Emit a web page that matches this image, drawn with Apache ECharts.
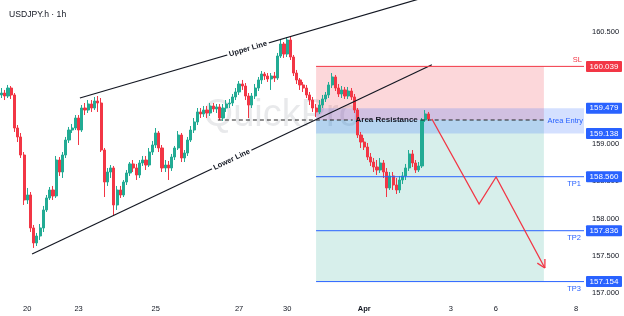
<!DOCTYPE html>
<html><head><meta charset="utf-8">
<script src="https://cdn.jsdelivr.net/npm/echarts@6/dist/echarts.min.js"></script>
<style>html,body{margin:0;padding:0;background:#fff}#c{width:624px;height:316px}</style>
</head><body><div id="c"></div>
<script>
const chartTitle = 'USDJPY.h · 1h';
const watermark = 'QuickPro';
// hourly candles: [open, close, low, high]
const candles = [
[159.656,159.682,159.615,159.749],[159.682,159.642,159.588,159.723],[159.642,159.749,159.615,159.790],[159.749,159.656,159.602,159.776],
[159.656,159.213,159.160,159.682],[159.213,159.093,159.025,159.253],[159.093,158.851,158.811,159.146],[158.851,158.248,158.181,158.891],
[158.248,158.315,158.194,158.409],[158.315,157.873,157.819,158.355],[157.873,157.672,157.605,157.913],[157.672,157.765,157.631,157.806],
[157.765,157.873,157.712,157.926],[157.873,158.114,157.819,158.168],[158.114,158.275,158.087,158.315],[158.275,158.382,158.248,158.422],
[158.382,158.302,158.248,158.436],[158.302,158.784,158.275,158.838],[158.784,158.623,158.570,158.824],[158.623,158.851,158.543,158.891],
[158.851,159.052,158.811,159.093],[159.052,159.186,159.012,159.227],[159.186,159.213,159.146,159.267],[159.213,159.347,159.186,159.387],
[159.347,159.186,158.985,159.387],[159.186,159.481,159.160,159.521],[159.481,159.454,159.387,159.548],[159.454,159.535,159.414,159.588],
[159.535,159.481,159.428,159.588],[159.481,159.575,159.454,159.629],[159.575,159.548,159.428,159.642],[159.548,158.918,158.891,159.615],
[158.918,158.489,158.288,158.945],[158.489,158.623,158.436,158.677],[158.623,158.677,158.543,158.717],[158.677,158.181,158.047,158.704],
[158.181,158.382,158.114,158.436],[158.382,158.315,158.275,158.436],[158.315,158.489,158.288,158.516],[158.489,158.610,158.449,158.650],
[158.610,158.731,158.570,158.757],[158.731,158.677,158.623,158.784],[158.677,158.583,158.516,158.731],[158.583,158.744,158.543,158.784],
[158.744,158.784,158.704,158.838],[158.784,158.717,158.650,158.838],[158.717,158.891,158.690,158.945],[158.891,158.985,158.851,159.039],
[158.985,159.146,158.945,159.213],[159.146,158.945,158.891,159.173],[158.945,158.677,158.623,158.985],[158.677,158.717,158.623,158.784],
[158.717,158.677,158.516,158.771],[158.677,158.824,158.637,158.865],[158.824,158.945,158.784,158.972],[158.945,159.119,158.918,159.173],
[159.119,158.811,158.757,159.146],[158.811,158.878,158.757,158.918],[158.878,159.052,158.838,159.093],[159.052,159.186,159.025,159.240],
[159.186,159.294,159.146,159.347],[159.294,159.428,159.253,159.481],[159.428,159.401,159.347,159.481],[159.401,159.454,159.361,159.508],
[159.454,159.414,159.347,159.508],[159.414,159.508,159.374,159.548],[159.508,159.468,159.428,159.548],[159.468,159.495,159.414,159.535],
[159.495,159.347,159.320,159.535],[159.347,159.481,159.307,159.535],[159.481,159.535,159.428,159.588],[159.535,159.548,159.481,159.602],
[159.548,159.629,159.508,159.669],[159.629,159.696,159.588,159.749],[159.696,159.803,159.656,159.843],[159.803,159.776,159.723,159.857],
[159.776,159.642,159.588,159.816],[159.642,159.521,159.347,159.682],[159.521,159.642,159.481,159.682],[159.642,159.749,159.602,159.803],
[159.749,159.857,159.709,159.897],[159.857,159.937,159.803,159.977],[159.937,159.910,159.857,159.964],[159.910,159.870,159.830,159.950],
[159.870,159.910,159.723,159.950],[159.910,159.883,159.830,159.964],[159.883,160.178,159.857,160.219],[160.178,160.339,160.152,160.393],
[160.339,160.205,160.152,160.366],[160.205,160.393,160.165,160.433],[160.393,160.165,160.125,160.433],[160.165,159.950,159.910,160.192],
[159.950,159.857,159.803,159.991],[159.857,159.790,159.723,159.883],[159.790,159.749,159.696,159.830],[159.749,159.656,159.615,159.790],
[159.656,159.588,159.521,159.696],[159.588,159.481,159.428,159.629],[159.481,159.428,159.361,159.535],[159.428,159.521,159.401,159.588],
[159.521,159.602,159.481,159.656],[159.602,159.656,159.562,159.696],[159.656,159.790,159.615,159.830],[159.790,159.897,159.749,159.950],
[159.897,159.749,159.709,159.924],[159.749,159.669,159.629,159.803],[159.669,159.723,159.615,159.776],[159.723,159.642,159.602,159.763],
[159.642,159.709,159.602,159.763],[159.709,159.629,159.588,159.749],[159.629,159.454,159.414,159.669],[159.454,159.119,159.079,159.481],
[159.119,159.025,158.945,159.160],[159.025,158.958,158.918,159.079],[158.958,158.824,158.784,159.012],[158.824,158.757,158.704,158.878],
[158.757,158.690,158.623,158.811],[158.690,158.650,158.583,158.784],[158.650,158.744,158.610,158.811],[158.744,158.623,158.543,158.784],
[158.623,158.409,158.288,158.677],[158.409,158.570,158.382,158.623],[158.570,158.449,158.382,158.623],[158.449,158.382,158.328,158.543],
[158.382,158.516,158.342,158.570],[158.516,158.570,158.462,158.623],[158.570,158.677,158.516,158.731],[158.677,158.865,158.637,158.918],
[158.865,158.744,158.690,158.918],[158.744,158.650,158.610,158.784],[158.650,158.704,158.623,158.757],[158.704,159.320,158.677,159.347],
[159.320,159.401,159.294,159.454],[159.401,159.334,159.307,159.428]
];
const totalBars = 182;               // hourly slots incl. projected future
const dayLabels = ['20','23','25','27','30','Apr','3','6','8'];
const dayLabelBars = [8,24,48,74,89,113,140,154,179];
const priceTicks = [157,157.5,158,158.5,159,160.5];
const yMin = 156.934, yMax = 160.929;

const slPrice = 160.039;
const entryTop = 159.479, entryBottom = 159.138, entryPrice = 159.32;
const tpPrices = [158.560,157.836,157.154];
const tpNames = ['TP1','TP2','TP3'];
const setupStartBar = 98, setupEndBar = 169;
const resistanceStartBar = 67.4, resistanceLabelBar = 120;
const upperLine = [[24.4,159.615],[130,160.941]];
const lowerLine = [[9.5,157.524],[134.1,160.06]];
const upperLabelBar = 76.8, lowerLabelBar = 71.7;
const projectionPath = [[134.1,159.334],[148.8,158.194],[154.1,158.556],[169.3,157.336]];

const UP='#22ab94', DOWN='#f23645', BLUE='#2962ff', RED='#f23645', INK='#131722';
const FONT = 'Arial, "Liberation Sans", sans-serif';

const categories = Array.from({length: totalBars}, (_, i) => String(i));
const labelAt = {}; dayLabelBars.forEach((b, k) => labelAt[b] = dayLabels[k]);

function onLine(line, bar) {
  const [a, b] = line; const t = (bar - a[0]) / (b[0] - a[0]);
  return [bar, a[1] + t * (b[1] - a[1])];
}

function renderBack(params, api) {
  const cs = params.coordSys;
  const P = (x, y) => api.coord([x, y]);
  const rightEdge = cs.x + cs.width;
  const ch = [];
  const wm = P(87.3, 159.38);
  ch.push({type:'text', style:{text: watermark, x: wm[0], y: wm[1], align:'center', verticalAlign:'middle',
    font: '38px ' + FONT, fill: 'rgba(120,123,134,0.17)'}});
  const rect = (x0, x1, p0, p1, color) => {
    const a = P(x0, p0), b = P(x1, p1);
    ch.push({type:'rect', shape:{x: a[0], y: a[1], width: b[0]-a[0], height: b[1]-a[1]}, style:{fill: color}});
  };
  rect(setupStartBar, setupEndBar, slPrice, entryPrice, 'rgba(242,54,69,0.2)');
  rect(setupStartBar, setupEndBar, entryPrice, tpPrices[2], 'rgba(8,153,129,0.16)');
  const a = P(setupStartBar, entryTop), b = P(setupStartBar, entryBottom);
  ch.push({type:'rect', shape:{x: a[0], y: a[1], width: rightEdge - a[0], height: b[1]-a[1]}, style:{fill:'rgba(41,98,255,0.2)'}});
  return {type:'group', children: ch};
}

function renderFront(params, api) {
  const cs = params.coordSys;
  const P = (x, y) => api.coord([x, y]);
  const rightEdge = cs.x + cs.width;
  const ch = [];
  const seg = (p, q, stroke, w, dash) => ch.push({type:'line', shape:{x1:p[0],y1:p[1],x2:q[0],y2:q[1]},
    style:{stroke, lineWidth:w, lineDash: dash || null}});
  [[upperLine, upperLabelBar, 'Upper Line'], [lowerLine, lowerLabelBar, 'Lower Line']].forEach(([ln, lb, txt]) => {
    const p0 = P(ln[0][0], ln[0][1]), p1 = P(ln[1][0], ln[1][1]);
    seg(p0, p1, INK, 1.2);
    const c = P(...onLine(ln, lb));
    ch.push({type:'text', x: c[0], y: c[1], rotation: Math.atan2(p0[1]-p1[1], p1[0]-p0[0]),
      style:{text: txt, x:0, y:0, align:'center', verticalAlign:'middle', font:'bold 7.5px ' + FONT, fill: INK,
        backgroundColor:'#fff', padding:[0,2]}});
  });
  const rs = P(resistanceStartBar, entryPrice), re = P(setupEndBar, entryPrice), rl = P(resistanceLabelBar, entryPrice);
  seg(rs, [rl[0]-34, rs[1]], '#222', 1.2, [4,3]);
  seg([rl[0]+34, rs[1]], re, '#222', 1.2, [4,3]);
  ch.push({type:'text', style:{text:'Area Resistance', x: rl[0], y: rl[1], align:'center', verticalAlign:'middle',
    font:'bold 8px ' + FONT, fill: INK}});
  const sl = P(setupStartBar, slPrice);
  seg(sl, [rightEdge, sl[1]], RED, 1);
  ch.push({type:'text', style:{text:'SL', x: rightEdge - 2, y: sl[1] - 6, align:'right', verticalAlign:'middle', font:'7.5px ' + FONT, fill: RED}});
  tpPrices.forEach((tp, k) => {
    const t = P(setupStartBar, tp);
    seg(t, [rightEdge, t[1]], BLUE, 1);
    ch.push({type:'text', style:{text: tpNames[k], x: rightEdge - 3, y: t[1] + 7, align:'right', verticalAlign:'middle', font:'7.5px ' + FONT, fill: BLUE}});
  });
  const ae = P(setupEndBar, (entryTop + entryBottom) / 2);
  ch.push({type:'text', style:{text:'Area Entry', x: rightEdge - 1, y: ae[1], align:'right', verticalAlign:'middle', font:'7.5px ' + FONT, fill: BLUE}});
  const pts = projectionPath.map(p => P(p[0], p[1]));
  ch.push({type:'polyline', shape:{points: pts}, style:{stroke: RED, lineWidth: 1.3, fill: null}});
  const e = pts[pts.length-1], s = pts[pts.length-2];
  const ang = Math.atan2(e[1]-s[1], e[0]-s[0]);
  [0.5, -0.5].forEach(d => seg(e, [e[0] - 9*Math.cos(ang+d), e[1] - 9*Math.sin(ang+d)], RED, 1.3));
  const box = (price, color) => {
    const y = P(setupStartBar, price)[1];
    ch.push({type:'rect', shape:{x: rightEdge + 2, y: y - 5.5, width: 36, height: 11, r: 1}, style:{fill: color}});
    ch.push({type:'text', style:{text: price.toFixed(3), x: rightEdge + 20, y: y, align:'center', verticalAlign:'middle',
      font:'8px ' + FONT, fill:'#fff'}});
  };
  box(slPrice, RED); box(entryTop, BLUE); box(entryBottom, BLUE);
  tpPrices.forEach(tp => box(tp, BLUE));
  return {type:'group', children: ch};
}

const chart = echarts.init(document.getElementById('c'), null, {renderer:'canvas'});
chart.setOption({
  animation: false,
  backgroundColor: '#fff',
  title: {text: chartTitle, left: 4, top: 5, textStyle: {fontSize: 8.6, fontWeight: 'normal', color: INK, fontFamily: FONT}},
  grid: {left: 0, right: 40, top: 0, bottom: 18},
  xAxis: [{
    type: 'category', data: categories, boundaryGap: true,
    axisLine: {show: false}, axisTick: {show: false}, splitLine: {show: false},
    axisLabel: {interval: (i) => labelAt[i] !== undefined, margin: 7, fontSize: 7.5, color: INK, fontFamily: FONT,
      formatter: (v, i) => labelAt[i] === 'Apr' ? '{b|Apr}' : (labelAt[i] || ''),
      rich: {b: {fontWeight: 'bold', fontSize: 7.5, color: INK, fontFamily: FONT}}}
  }, {
    type: 'value', min: -0.5, max: totalBars - 0.5, show: false
  }],
  yAxis: {
    type: 'value', position: 'right', min: yMin, max: yMax, scale: true,
    axisLine: {show: false}, axisTick: {show: false}, splitLine: {show: false},
    axisLabel: {customValues: priceTicks, formatter: v => v.toFixed(3), fontSize: 7.5, color: INK, fontFamily: FONT, margin: 8}
  },
  series: [
    {type:'custom', xAxisIndex: 1, yAxisIndex: 0, z: 1, silent: true, data: [[0, 159]], renderItem: renderBack},
    {type:'candlestick', xAxisIndex: 0, z: 2, data: candles, barWidth: '82%',
      itemStyle: {color: UP, color0: DOWN, borderColor: UP, borderColor0: DOWN, borderWidth: 1}},
    {type:'custom', xAxisIndex: 1, yAxisIndex: 0, z: 3, silent: true, data: [[0, 159]], renderItem: renderFront}
  ]
});
</script></body></html>
